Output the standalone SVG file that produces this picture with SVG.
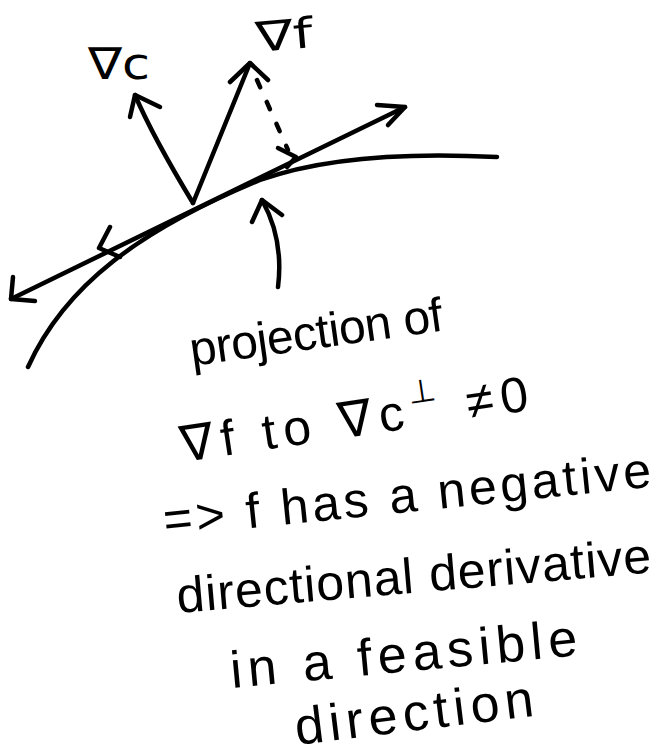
<svg xmlns="http://www.w3.org/2000/svg" width="661" height="755" viewBox="0 0 661 755">
<style>
.s{fill:none;stroke:#000;stroke-width:4.5;stroke-linecap:round;stroke-linejoin:round}
.t{font-family:"Liberation Sans","DejaVu Sans",sans-serif;fill:#000}
.n{font-family:"DejaVu Sans","Liberation Sans",sans-serif;fill:#000}
</style>
<rect width="661" height="755" fill="#fff"/>
<g id="connectors">
<path id="constraint" class="s" d="M28 367 C65 285 140 230 260 180 C330 155 420 153 497 157"/>
<path id="tangent" class="s" d="M11 299 L405 107"/>
<path class="s" d="M13 277 L11 299 L35 301"/>
<path class="s" d="M377 105 L405 107 L388 125"/>
<path class="s" d="M110 227 L99 248 L120 257"/>
<path class="s" d="M278 148 L296 157 L287 167"/>
<path id="gradc" class="s" d="M193 203 C170 165 150 130 135 95"/>
<path class="s" d="M130 117 L135 95 L160 107"/>
<path id="gradf" class="s" d="M193 203 C215 150 235 100 250 63"/>
<path class="s" d="M230 82 L250 63 L268 80"/>
<path id="proj" class="s" d="M257 80 L288 150" stroke-dasharray="8 16"/>
<path id="pointer" class="s" d="M278 287 C282 255 276 225 262 200"/>
<path class="s" d="M252 222 L262 200 L282 215"/>
</g>
<g id="label-gradc"><text class="n" x="88" y="79" font-size="44" textLength="62" lengthAdjust="spacingAndGlyphs">∇c</text></g>
<g id="label-gradf"><text class="n" x="257" y="52" font-size="42" textLength="57" lengthAdjust="spacingAndGlyphs" transform="rotate(-5 257 52)">∇f</text></g>
<g id="note">
<text class="t" x="192" y="366" font-size="48" textLength="255" transform="rotate(-8 192 366)">projection of</text>
<text class="t" x="183" y="462" font-size="50" textLength="351" transform="rotate(-8.5 183 462)">∇f to ∇c<tspan font-size="32" dy="-24">⊥</tspan><tspan dy="24"> ≠0</tspan></text>
<text class="t" x="165" y="537" font-size="50" textLength="490" transform="rotate(-5.9 165 537)">=&gt; f has a negative</text>
<text class="t" x="178" y="613" font-size="50" textLength="476" transform="rotate(-4.9 178 613)">directional derivative</text>
<text class="t" x="232" y="688" font-size="52" textLength="348" transform="rotate(-5.4 232 688)">in a feasible</text>
<text class="t" x="297" y="745" font-size="52" textLength="240" transform="rotate(-7 297 745)">direction</text>
</g>
</svg>
